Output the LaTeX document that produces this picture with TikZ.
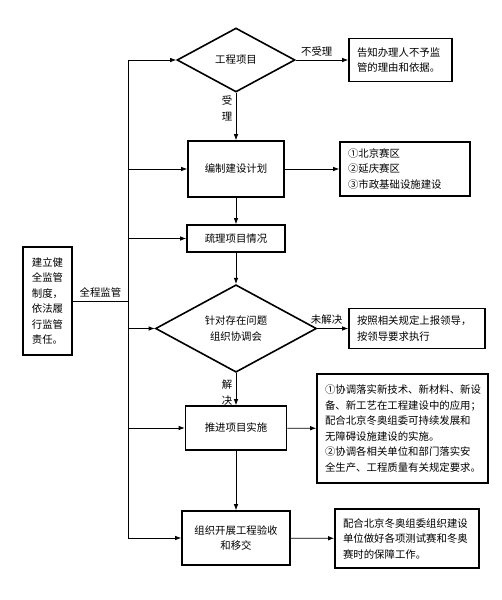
\documentclass[tikz,border=0pt]{standalone}
\usepackage{fontspec}
\usepackage{tikz}
\usetikzlibrary{shapes.geometric, arrows.meta}
\newfontfamily\cjk{Noto Sans CJK SC}

\begin{document}
\begin{tikzpicture}[x=1pt, y=-1pt,
  every node/.style={font=\cjk\fontsize{10.4}{15.5}\selectfont},
  box/.style={draw, line width=1.6pt, align=center, inner sep=0pt},
  note/.style={draw, line width=1.6pt, align=left, inner ysep=0pt, inner xsep=8pt},
  choice/.style={draw, diamond, line width=1.6pt, align=center, inner sep=0pt},
  link/.style={line width=0.8pt, -{Latex[length=6pt, width=4.5pt]}}]
  \fill [white] (0, 0) rectangle (501, 600);

  \node [choice, minimum width=118pt, minimum height=64pt] (proj) at (236, 60) {工程项目};
  \node [note, text width=87pt, minimum height=43pt] (refuse) at (400.5, 60) {告知办理人不予监\\管的理由和依据。};

  \node [box, minimum width=96pt, minimum height=56pt] (plan) at (236, 169) {编制建设计划};
  \node [note, text width=114pt, minimum height=54pt] (zones) at (405, 169) {①北京赛区\\②延庆赛区\\③市政基础设施建设};

  \node [box, minimum width=98pt, minimum height=27pt] (sort) at (236, 238.5) {疏理项目情况};

  \node [choice, minimum width=161pt, minimum height=79pt] (meet) at (236, 328.5) {针对存在问题\\组织协调会};
  \node [note, text width=120pt, minimum height=40pt] (report) at (417, 328.5) {按照相关规定上报领导，\\按领导要求执行};

  \node [box, minimum width=101pt, minimum height=44pt] (push) at (236, 428) {推进项目实施};
  \node [note, text width=155pt, minimum height=109pt] (coord) at (402.5, 428.5)
  {①协调落实新技术、新材料、新设\\备、新工艺在工程建设中的应用；\\配合北京冬奥组委可持续发展和\\无障碍设施建设的实施。\\②协调各相关单位和部门落实安\\全生产、工程质量有关规定要求。};

  \node [box, minimum width=108pt, minimum height=54pt] (accept) at (236, 538) {组织开展工程验收\\和移交};
  \node [note, text width=128pt, minimum height=59pt] (serve) at (407, 538.5) {配合北京冬奥组委组织建设\\单位做好各项测试赛和冬奥\\赛时的保障工作。};

  \node [box, minimum width=49pt, minimum height=108pt] (duty) at (47.5, 301) {建立健\\全监管\\制度，\\依法履\\行监管\\责任。};

  % main column
  \draw [link] (proj) -- node[left, align=center, pos=0.33] {受\\理} (plan);
  \draw [link] (plan) -- (sort);
  \draw [link] (sort) -- (meet);
  \draw [link] (meet) -- node[left, align=center, pos=0.6] {解\\决} (push);
  \draw [link] (push) -- (accept);

  % side boxes
  \draw [link] (proj) -- node[above, pos=0.4] {不受理} (refuse);
  \draw [link] (plan) -- (zones);
  \draw [link] (meet) -- node[above, pos=0.3] {未解决} (report);
  \draw [link] (push) -- (coord);
  \draw [link] (accept) -- (serve);

  % supervision line
  \coordinate (bustop) at (128, 60);
  \coordinate (busbot) at (128, 538);
  \draw [line width=0.8pt] (bustop) -- (busbot);
  \draw [line width=0.8pt] (duty) -- node[above] {全程监管} (bustop |- duty);
  \foreach \n in {proj, plan, sort, meet, push, accept} {
    \draw [link] (bustop |- \n) -- (\n);
  }
\end{tikzpicture}
\end{document}
